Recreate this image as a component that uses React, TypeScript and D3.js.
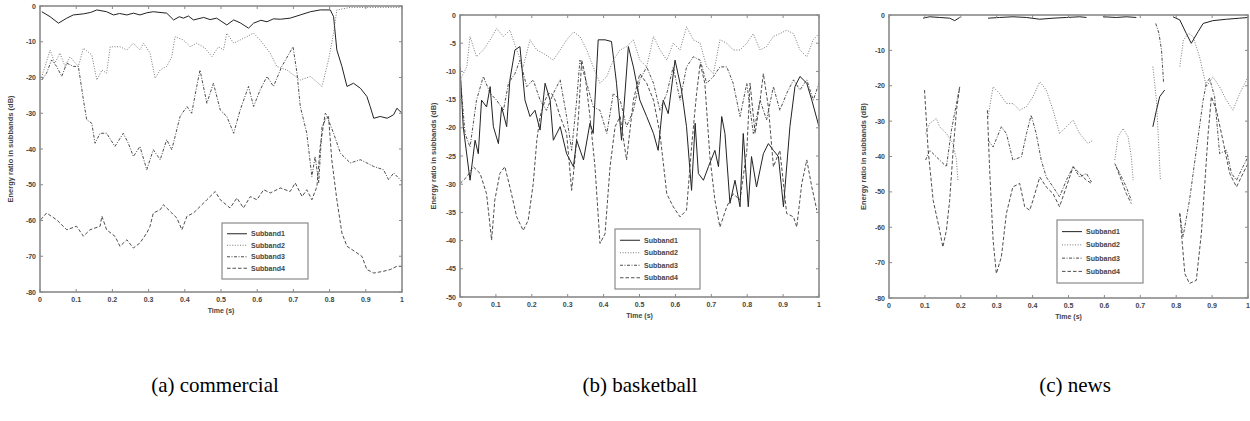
import React from "react";
import * as d3 from "d3";

type Pt = [number, number | null];

const subbandNames = ["Subband1", "Subband2", "Subband3", "Subband4"];
const timeTicks = [0, 0.1, 0.2, 0.3, 0.4, 0.5, 0.6, 0.7, 0.8, 0.9, 1];
const tensTicks = [0, -10, -20, -30, -40, -50, -60, -70, -80];
const fivesTicks = [0, -5, -10, -15, -20, -25, -30, -35, -40, -45, -50];

// (a) commercial
const commercialSub1: Pt[] = [
  [0.005, -1.6], [0.028, -3.0], [0.051, -4.8], [0.074, -3.4], [0.092, -2.5], [0.12, -2.2],
  [0.14, -1.8], [0.157, -1.1], [0.184, -1.6], [0.203, -2.5], [0.22, -2.1], [0.24, -2.5],
  [0.258, -2.0], [0.276, -2.5], [0.295, -1.9], [0.313, -1.6], [0.35, -2.0], [0.369, -3.9],
  [0.385, -3.0], [0.396, -3.4], [0.41, -2.8], [0.424, -3.9], [0.452, -3.2], [0.47, -3.8],
  [0.488, -3.4], [0.516, -5.3], [0.535, -3.9], [0.553, -4.7], [0.576, -6.2], [0.59, -4.8],
  [0.61, -4.0], [0.627, -4.4], [0.645, -3.6], [0.664, -3.7], [0.691, -3.4], [0.719, -2.5],
  [0.747, -1.6], [0.774, -1.1], [0.802, -1.1], [0.811, -3.0], [0.82, -12.3], [0.834, -16.9],
  [0.848, -22.5], [0.866, -21.6], [0.885, -23.0], [0.903, -25.3], [0.912, -28.1], [0.922, -31.4],
  [0.94, -30.9], [0.959, -31.4], [0.977, -30.4], [0.986, -28.6], [1.0, -30.0],
];
const commercialSub2: Pt[] = [
  [0.002, -20.7], [0.014, -16.9], [0.028, -12.3], [0.041, -16.0], [0.055, -13.2], [0.069, -16.9],
  [0.083, -14.2], [0.106, -16.9], [0.12, -11.8], [0.143, -13.7], [0.157, -20.7], [0.171, -17.9],
  [0.184, -18.8], [0.194, -11.4], [0.221, -11.4], [0.24, -12.3], [0.258, -10.4], [0.276, -12.3],
  [0.286, -10.4], [0.304, -13.2], [0.318, -20.2], [0.332, -17.9], [0.35, -16.9], [0.364, -14.2],
  [0.373, -8.6], [0.396, -9.5], [0.415, -11.4], [0.433, -10.4], [0.456, -11.8], [0.475, -14.2],
  [0.493, -11.4], [0.507, -12.3], [0.516, -7.6], [0.535, -10.4], [0.553, -9.5], [0.571, -8.6],
  [0.59, -7.6], [0.608, -9.5], [0.636, -13.2], [0.654, -16.9], [0.682, -17.9], [0.719, -20.7],
  [0.747, -19.7], [0.779, -22.5], [0.797, -15.1], [0.811, -7.6], [0.82, -1.1], [0.857, -0.4],
  [0.903, -0.4], [0.949, -0.4], [1.0, -0.4],
];
const commercialSub3: Pt[] = [
  [0.005, -20.7], [0.018, -18.8], [0.032, -15.1], [0.046, -16.9], [0.06, -19.7], [0.074, -16.0],
  [0.092, -16.9], [0.106, -16.9], [0.12, -26.3], [0.129, -31.8], [0.143, -32.8], [0.152, -38.4],
  [0.166, -35.6], [0.184, -35.6], [0.207, -39.3], [0.23, -35.6], [0.244, -38.4], [0.258, -42.1],
  [0.276, -39.3], [0.295, -45.8], [0.313, -40.2], [0.332, -43.0], [0.35, -37.4], [0.364, -40.2],
  [0.387, -30.9], [0.406, -28.1], [0.419, -30.0], [0.433, -22.5], [0.442, -17.9], [0.461, -27.2],
  [0.479, -21.6], [0.498, -29.1], [0.516, -30.9], [0.535, -35.6], [0.553, -29.1], [0.576, -22.5],
  [0.59, -28.1], [0.608, -23.5], [0.627, -19.7], [0.645, -22.5], [0.668, -16.9], [0.699, -11.4],
  [0.71, -18.8], [0.719, -28.1], [0.737, -35.6], [0.751, -47.7], [0.76, -42.1], [0.77, -49.5],
  [0.779, -33.7], [0.793, -30.9], [0.811, -35.6], [0.83, -41.2], [0.857, -43.9], [0.885, -43.0],
  [0.903, -43.9], [0.922, -44.9], [0.949, -45.8], [0.963, -48.6], [0.977, -46.7], [1.0, -49.1],
];
const commercialSub4: Pt[] = [
  [0.002, -59.8], [0.018, -57.9], [0.046, -59.8], [0.074, -62.6], [0.101, -61.6], [0.12, -64.4],
  [0.138, -62.6], [0.166, -61.6], [0.171, -58.8], [0.184, -62.6], [0.207, -64.4], [0.221, -67.2],
  [0.24, -65.4], [0.258, -67.7], [0.276, -66.3], [0.295, -63.5], [0.304, -61.6], [0.313, -57.9],
  [0.332, -57.0], [0.341, -55.6], [0.364, -57.9], [0.378, -59.3], [0.392, -62.6], [0.406, -58.8],
  [0.424, -57.9], [0.442, -56.1], [0.461, -54.2], [0.484, -51.9], [0.498, -54.2], [0.525, -56.5],
  [0.544, -53.7], [0.562, -56.5], [0.581, -53.3], [0.599, -54.2], [0.618, -51.4], [0.636, -52.3],
  [0.664, -50.9], [0.691, -51.9], [0.705, -49.5], [0.724, -53.3], [0.737, -51.4], [0.751, -54.2],
  [0.765, -50.5], [0.774, -39.3], [0.788, -30.0], [0.797, -30.9], [0.806, -43.0], [0.82, -54.2],
  [0.834, -63.5], [0.848, -67.2], [0.876, -69.1], [0.889, -70.0], [0.903, -73.7], [0.922, -74.7],
  [0.949, -74.2], [0.968, -73.7], [0.986, -72.8], [1.0, -72.8],
];

// (b) basketball
const basketballSub1: Pt[] = [
  [0, -9.2], [0.009, -19.8], [0.028, -29.3], [0.042, -22.2], [0.051, -24.6], [0.06, -15.1],
  [0.074, -16.3], [0.084, -12.7], [0.093, -19.8], [0.107, -22.8], [0.116, -16.3], [0.13, -19.8],
  [0.139, -11.5], [0.153, -6.2], [0.167, -5.6], [0.181, -15.1], [0.195, -18.0], [0.209, -16.9],
  [0.223, -20.4], [0.237, -12.1], [0.251, -15.1], [0.26, -22.2], [0.279, -19.8], [0.297, -24.6],
  [0.316, -26.9], [0.325, -22.2], [0.344, -25.7], [0.362, -19.2], [0.371, -21.0], [0.385, -4.4],
  [0.404, -4.4], [0.422, -4.7], [0.436, -12.1], [0.45, -22.2], [0.469, -5.6], [0.483, -9.2],
  [0.501, -15.1], [0.52, -18.0], [0.539, -21.0], [0.552, -24.0], [0.566, -15.1], [0.58, -17.5],
  [0.599, -8.0], [0.617, -13.3], [0.631, -19.8], [0.645, -31.1], [0.655, -19.2], [0.664, -28.1],
  [0.678, -29.3], [0.692, -26.9], [0.71, -24.0], [0.72, -26.9], [0.729, -18.0], [0.738, -21.0],
  [0.752, -33.4], [0.766, -29.3], [0.78, -34.0], [0.789, -21.0], [0.803, -34.0], [0.812, -25.1],
  [0.826, -30.5], [0.845, -24.6], [0.859, -22.8], [0.873, -24.0], [0.887, -25.1], [0.901, -34.0],
  [0.919, -19.8], [0.933, -12.7], [0.947, -10.9], [0.966, -12.1], [0.98, -15.1], [1.0, -19.8],
];
const basketballSub2: Pt[] = [
  [0, -11.5], [0.019, -9.2], [0.028, -3.8], [0.046, -7.4], [0.065, -6.2], [0.084, -4.4],
  [0.102, -2.4], [0.121, -3.8], [0.139, -2.7], [0.158, -6.2], [0.176, -9.2], [0.195, -4.4],
  [0.214, -6.2], [0.232, -6.8], [0.26, -8.0], [0.279, -6.2], [0.297, -4.4], [0.316, -3.0],
  [0.334, -3.8], [0.353, -6.2], [0.371, -9.2], [0.39, -12.1], [0.409, -10.9], [0.427, -8.0],
  [0.446, -6.2], [0.464, -5.6], [0.483, -4.4], [0.501, -8.0], [0.52, -9.2], [0.539, -3.8],
  [0.557, -6.2], [0.576, -8.0], [0.594, -5.0], [0.613, -6.2], [0.631, -2.1], [0.65, -4.4],
  [0.669, -5.0], [0.687, -9.2], [0.706, -10.4], [0.724, -4.4], [0.743, -5.0], [0.761, -6.2],
  [0.78, -6.2], [0.799, -5.0], [0.817, -3.3], [0.836, -6.2], [0.854, -5.6], [0.873, -3.8],
  [0.891, -3.3], [0.91, -2.7], [0.929, -3.3], [0.947, -6.2], [0.966, -7.4], [0.984, -4.4],
  [1.0, -3.3],
];
const basketballSub3: Pt[] = [
  [0, -10.4], [0.014, -21.0], [0.028, -23.4], [0.046, -15.1], [0.065, -10.9], [0.084, -13.9],
  [0.102, -15.1], [0.121, -16.9], [0.135, -12.1], [0.153, -10.4], [0.167, -8.0], [0.186, -12.7],
  [0.204, -11.5], [0.223, -15.1], [0.241, -16.9], [0.26, -13.9], [0.279, -11.5], [0.297, -18.0],
  [0.311, -24.0], [0.325, -15.1], [0.334, -8.0], [0.353, -12.1], [0.371, -16.3], [0.39, -16.9],
  [0.409, -21.0], [0.427, -13.9], [0.446, -15.1], [0.464, -19.8], [0.483, -16.9], [0.501, -11.5],
  [0.52, -9.2], [0.539, -12.1], [0.557, -16.9], [0.576, -13.9], [0.594, -9.2], [0.613, -15.1],
  [0.631, -9.2], [0.65, -7.4], [0.669, -8.0], [0.687, -12.1], [0.706, -10.9], [0.724, -9.2],
  [0.743, -9.2], [0.761, -12.1], [0.78, -18.0], [0.799, -12.1], [0.817, -21.0], [0.836, -15.1],
  [0.854, -18.6], [0.873, -12.7], [0.891, -16.9], [0.91, -13.9], [0.929, -11.5], [0.947, -13.3],
  [0.966, -11.5], [0.984, -15.1], [1.0, -12.1],
];
const basketballSub4: Pt[] = [
  [0, -29.9], [0.019, -28.7], [0.037, -26.9], [0.056, -28.1], [0.074, -31.7], [0.088, -39.9],
  [0.097, -32.8], [0.111, -28.1], [0.125, -26.9], [0.139, -30.5], [0.158, -35.8], [0.176, -38.2],
  [0.19, -36.4], [0.204, -29.9], [0.214, -22.2], [0.223, -18.0], [0.237, -15.1], [0.246, -13.9],
  [0.255, -13.9], [0.265, -15.1], [0.279, -18.0], [0.297, -21.0], [0.311, -31.1], [0.32, -25.7],
  [0.33, -18.0], [0.339, -8.0], [0.348, -10.4], [0.362, -18.0], [0.376, -26.9], [0.39, -40.5],
  [0.404, -38.8], [0.418, -26.9], [0.432, -19.8], [0.446, -18.0], [0.464, -25.7], [0.483, -15.1],
  [0.501, -10.4], [0.52, -12.1], [0.539, -15.1], [0.557, -21.0], [0.576, -31.7], [0.594, -34.0],
  [0.613, -35.8], [0.631, -34.6], [0.645, -23.4], [0.659, -13.9], [0.669, -8.6], [0.682, -12.1],
  [0.696, -25.1], [0.71, -32.8], [0.724, -37.6], [0.743, -34.0], [0.761, -31.7], [0.78, -32.8],
  [0.799, -24.0], [0.808, -12.1], [0.822, -21.0], [0.836, -15.1], [0.845, -10.4], [0.859, -16.3],
  [0.873, -26.9], [0.891, -24.0], [0.91, -35.2], [0.929, -35.8], [0.938, -37.6], [0.952, -29.9],
  [0.966, -25.7], [0.98, -30.5], [0.994, -34.6],
];

// (c) news — null marks a gap in the record
const newsSub1: Pt[] = [
  [0.095, -0.9], [0.113, -0.5], [0.141, -0.7], [0.169, -0.9], [0.183, -1.6], [0.197, -0.7],
  [0.23, null],
  [0.276, -0.9], [0.308, -0.7], [0.345, -0.5], [0.383, -0.7], [0.42, -1.2], [0.457, -0.9],
  [0.494, -0.7], [0.531, -0.5], [0.55, -0.7],
  [0.57, null],
  [0.596, -0.5], [0.633, -0.7], [0.661, -0.5], [0.689, -0.7],
  [0.71, null],
  [0.735, -31.6], [0.745, -26.9], [0.754, -23.1], [0.768, -21.2],
  [0.78, null],
  [0.791, -0.5], [0.81, -1.4], [0.828, -5.2], [0.842, -8.0], [0.861, -4.7], [0.875, -2.4],
  [0.902, -1.6], [0.94, -1.2], [0.977, -0.9], [1.0, -0.7],
];
const newsSub2: Pt[] = [
  [0.102, -33.5], [0.113, -30.7], [0.132, -29.2], [0.141, -31.6], [0.16, -33.5], [0.178, -36.3],
  [0.188, -41.0], [0.192, -46.7],
  [0.23, null],
  [0.276, -28.8], [0.29, -20.3], [0.308, -22.2], [0.327, -25.0], [0.345, -25.0], [0.364, -26.9],
  [0.383, -25.9], [0.401, -23.1], [0.42, -18.9], [0.438, -21.2], [0.457, -26.9], [0.475, -33.5],
  [0.494, -31.6], [0.513, -29.7], [0.531, -33.5], [0.554, -36.3], [0.568, -35.4],
  [0.6, null],
  [0.629, -41.0], [0.638, -34.4], [0.652, -32.1], [0.666, -34.4], [0.675, -40.1], [0.68, -46.7],
  [0.71, null],
  [0.735, -14.6], [0.745, -24.1], [0.752, -38.2], [0.756, -46.7],
  [0.78, null],
  [0.81, -14.6], [0.82, -7.1], [0.834, -5.2], [0.847, -6.1], [0.865, -11.8], [0.884, -20.3],
  [0.902, -17.5], [0.921, -20.3], [0.94, -24.1], [0.958, -26.9], [0.977, -22.2], [1.0, -17.5],
];
const newsSub3: Pt[] = [
  [0.102, -41.0], [0.113, -38.2], [0.141, -41.0], [0.16, -42.9], [0.174, -32.5], [0.188, -25.0],
  [0.197, -20.3],
  [0.23, null],
  [0.276, -35.4], [0.29, -37.3], [0.313, -31.6], [0.327, -33.5], [0.345, -41.0], [0.369, -40.1],
  [0.383, -33.5], [0.396, -28.3], [0.41, -33.5], [0.424, -41.0], [0.438, -45.8], [0.457, -48.6],
  [0.475, -51.4], [0.494, -46.7], [0.513, -42.9], [0.531, -45.8], [0.55, -44.8], [0.564, -47.2],
  [0.6, null],
  [0.629, -42.0], [0.643, -44.8], [0.661, -48.6], [0.675, -52.4],
  [0.71, null],
  [0.743, -2.4], [0.752, -5.2], [0.759, -9.9], [0.765, -19.3],
  [0.78, null],
  [0.81, -56.1], [0.819, -62.7], [0.837, -52.4], [0.856, -38.2], [0.875, -24.1], [0.884, -19.3],
  [0.893, -17.9], [0.907, -23.1], [0.921, -39.2], [0.94, -38.2], [0.954, -44.8], [0.968, -46.7],
  [0.986, -42.9], [1.0, -40.1],
];
const newsSub4: Pt[] = [
  [0.099, -21.2], [0.109, -38.2], [0.123, -52.4], [0.141, -60.8], [0.15, -65.6], [0.16, -60.8],
  [0.169, -52.4], [0.178, -39.2], [0.188, -26.9], [0.197, -20.3],
  [0.23, null],
  [0.274, -26.9], [0.28, -42.9], [0.29, -63.7], [0.299, -73.1], [0.313, -68.4], [0.327, -56.1],
  [0.345, -48.6], [0.364, -47.6], [0.378, -54.2], [0.392, -55.2], [0.401, -52.4], [0.42, -45.8],
  [0.438, -48.6], [0.457, -50.5], [0.475, -54.2], [0.494, -48.6], [0.513, -42.9], [0.531, -44.8],
  [0.55, -46.7], [0.564, -47.6],
  [0.6, null],
  [0.633, -42.9], [0.647, -46.7], [0.661, -50.5], [0.675, -53.3],
  [0.7, null],
  [0.81, -56.1], [0.824, -73.1], [0.837, -75.9], [0.856, -75.0], [0.87, -61.8], [0.879, -48.6],
  [0.889, -33.5], [0.898, -23.1], [0.912, -26.9], [0.93, -35.4], [0.949, -44.8], [0.968, -48.6],
  [0.986, -44.8], [1.0, -42.0],
];

const lineStyles = [
  { dash: undefined, color: "#222", width: 1 },
  { dash: "1,1.6", color: "#6a6a6a", width: 0.9 },
  { dash: "3,1.5,1,1.5", color: "#3a3a3a", width: 0.9 },
  { dash: "3.5,2", color: "#3a3a3a", width: 0.9 },
];

const tickFont = "'Liberation Sans', Arial, sans-serif";

type PanelProps = {
  id: string;
  x0: number; x1: number; y0: number; y1: number;
  yMin: number;
  yTicks: number[];
  series: Pt[][];
  legend: { x: number; y: number; w: number; h: number };
  yLabelX: number;
  caption: string;
  captionX: number;
};

function Panel(p: PanelProps) {
  const x = d3.scaleLinear().domain([0, 1]).range([p.x0, p.x1]);
  const y = d3.scaleLinear().domain([p.yMin, 0]).range([p.y1, p.y0]);
  const line = d3
    .line<Pt>()
    .defined((d) => d[1] !== null)
    .x((d) => x(d[0]))
    .y((d) => y(d[1] as number));
  const midY = (p.y0 + p.y1) / 2;
  const midX = (p.x0 + p.x1) / 2;
  const rowH = (p.legend.h - 10) / 4;
  return (
    <g>
      <defs>
        <clipPath id={`clip-${p.id}`}>
          <rect x={p.x0} y={p.y0} width={p.x1 - p.x0} height={p.y1 - p.y0} />
        </clipPath>
      </defs>
      <g clipPath={`url(#clip-${p.id})`}>
        {p.series.map((s, i) => (
          <path
            key={i}
            d={line(s) || ""}
            fill="none"
            stroke={lineStyles[i].color}
            strokeWidth={lineStyles[i].width}
            strokeDasharray={lineStyles[i].dash}
          />
        ))}
      </g>
      <rect x={p.x0} y={p.y0} width={p.x1 - p.x0} height={p.y1 - p.y0} fill="none" stroke="#8a8a8a" strokeWidth={1.6} />
      {timeTicks.map((t) => (
        <g key={t}>
          <line x1={x(t)} x2={x(t)} y1={p.y1} y2={p.y1 - 3} stroke="#8a8a8a" />
          <line x1={x(t)} x2={x(t)} y1={p.y0} y2={p.y0 + 3} stroke="#8a8a8a" />
          <text x={x(t)} y={p.y1 + 10} fontSize={7} fontWeight="bold" fontFamily={tickFont} fill="#444" textAnchor="middle">
            {String(t)}
          </text>
        </g>
      ))}
      {p.yTicks.map((v) => (
        <g key={v}>
          <line x1={p.x0} x2={p.x0 + 3} y1={y(v)} y2={y(v)} stroke="#8a8a8a" />
          <line x1={p.x1} x2={p.x1 - 3} y1={y(v)} y2={y(v)} stroke="#8a8a8a" />
          <text x={p.x0 - 4} y={y(v) + 2.5} fontSize={7} fontWeight="bold" fontFamily={tickFont} fill="#444" textAnchor="end">
            {String(v)}
          </text>
        </g>
      ))}
      <text x={midX} y={p.y1 + 21} fontSize={7} fontWeight="bold" fontFamily={tickFont} fill="#444" textAnchor="middle">
        Time (s)
      </text>
      <text
        transform={`translate(${p.yLabelX},${midY}) rotate(-90)`}
        fontSize={7.5}
        fontWeight="bold"
        fontFamily={tickFont}
        fill="#444"
        textAnchor="middle"
      >
        Energy ratio in subbands (dB)
      </text>
      <rect x={p.legend.x} y={p.legend.y} width={p.legend.w} height={p.legend.h} fill="#fff" stroke="#8a8a8a" strokeWidth={1.2} />
      {subbandNames.map((n, i) => {
        const ry = p.legend.y + 5 + rowH * (i + 0.5);
        return (
          <g key={n}>
            <line
              x1={p.legend.x + 5}
              x2={p.legend.x + 25}
              y1={ry}
              y2={ry}
              stroke={lineStyles[i].color}
              strokeWidth={lineStyles[i].width}
              strokeDasharray={lineStyles[i].dash}
            />
            <text x={p.legend.x + 29} y={ry + 2.5} fontSize={7} fontWeight="bold" fontFamily={tickFont} fill="#444">
              {n}
            </text>
          </g>
        );
      })}
      <text
        x={p.captionX}
        y={392}
        fontSize={21}
        fontFamily="'Liberation Serif', 'Times New Roman', serif"
        fill="#000"
        textAnchor="middle"
      >
        {p.caption}
      </text>
    </g>
  );
}

export default function App() {
  return (
    <svg
      width={1250}
      height={421}
      style={{ position: "absolute", left: 0, top: 0, background: "#fff" }}
    >
      <Panel
        id="a"
        x0={40} x1={402} y0={6} y1={292}
        yMin={-80}
        yTicks={tensTicks}
        series={[commercialSub1, commercialSub2, commercialSub3, commercialSub4]}
        legend={{ x: 222, y: 223, w: 86, h: 56 }}
        yLabelX={13}
        caption="(a) commercial"
        captionX={215}
      />
      <Panel
        id="b"
        x0={460} x1={819} y0={15} y1={297}
        yMin={-50}
        yTicks={fivesTicks}
        series={[basketballSub1, basketballSub2, basketballSub3, basketballSub4]}
        legend={{ x: 615, y: 229, w: 85, h: 60 }}
        yLabelX={436}
        caption="(b) basketball"
        captionX={640}
      />
      <Panel
        id="c"
        x0={889} x1={1248} y0={15} y1={298}
        yMin={-80}
        yTicks={tensTicks}
        series={[newsSub1, newsSub2, newsSub3, newsSub4]}
        legend={{ x: 1057, y: 220, w: 86, h: 63 }}
        yLabelX={866}
        caption="(c) news"
        captionX={1075}
      />
    </svg>
  );
}
